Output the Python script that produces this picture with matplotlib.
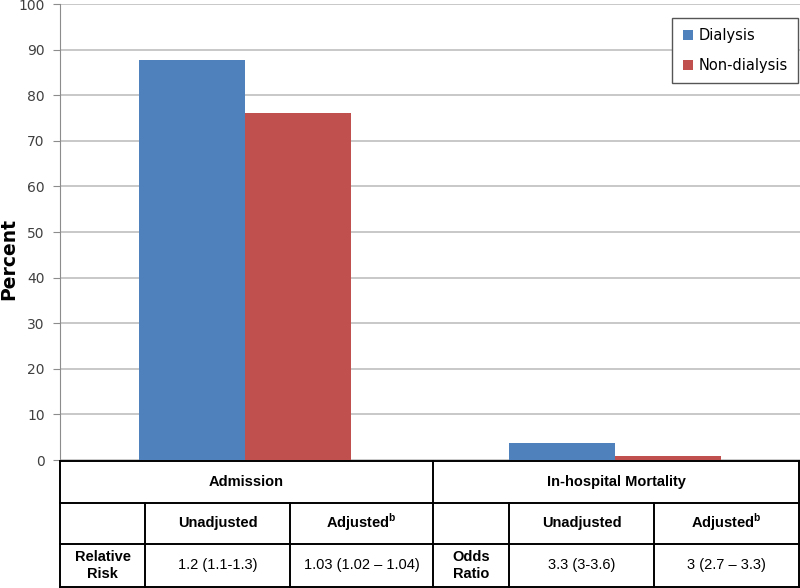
import numpy as np
import matplotlib
matplotlib.use("Agg")
import matplotlib.pyplot as plt

plt.rcParams['mathtext.fontset'] = 'custom'
plt.rcParams['mathtext.bf'] = 'Liberation Sans:bold'
plt.rcParams['mathtext.rm'] = 'Liberation Sans'

# --- Data ---
categories = ["Admission", "In-hospital Mortality"]
series_names = ["Dialysis", "Non-dialysis"]
dialysis = [87.8, 3.7]
non_dialysis = [76.0, 0.9]
colors = ["#4F81BD", "#C0504D"]

col_headers = ["Unadjusted", "Adjusted"]
row_labels = ["Relative\nRisk", "Odds\nRatio"]
unadjusted_vals = ["1.2 (1.1-1.3)", "3.3 (3-3.6)"]
adjusted_vals = ["1.03 (1.02 \u2013 1.04)", "3 (2.7 \u2013 3.3)"]

W, H = 800, 588
fig = plt.figure(figsize=(8, 5.88), dpi=100)

# --- Bar chart ---
ax = fig.add_axes([60 / W, (H - 460) / H, 740 / W, 456 / H])
x = np.arange(len(categories))
bw = 0.287
ax.bar(x - bw / 2, dialysis, bw, color=colors[0], label=series_names[0], zorder=3)
ax.bar(x + bw / 2, non_dialysis, bw, color=colors[1], label=series_names[1], zorder=3)
ax.set_xlim(-0.5, 1.5)
ax.set_ylim(0, 100)
ax.set_yticks(np.arange(0, 101, 10))
ax.set_xticks([])
ax.yaxis.grid(True, color="#BFBFBF", linewidth=1.2, zorder=0)
for s in ["top", "right", "bottom"]:
    ax.spines[s].set_visible(False)
ax.spines["left"].set_color("#8C8C8C")
ax.tick_params(axis="y", colors="#8C8C8C", labelcolor="#404040", length=5,
               labelsize=10, pad=6)
ax.set_ylabel("Percent", fontsize=13.5, fontweight="bold", va="center")
ax.yaxis.set_label_coords(-0.069, 0.44)
leg = ax.legend(loc="upper right", bbox_to_anchor=(0.9975, 0.969), fancybox=False,
                frameon=True, handlelength=0.7, handleheight=0.7, handletextpad=0.4,
                labelspacing=1.0, borderpad=0.7, borderaxespad=0, fontsize=10.5,
                framealpha=1)
leg.get_frame().set_edgecolor("#555555")
leg.get_frame().set_linewidth(1.0)

# --- Table below ---
tx = fig.add_axes([0, 0, 1, (H - 460) / H])
tx.set_xlim(0, W)
tx.set_ylim(H, 460)
tx.axis("off")
lw = 1.4
tfont = "Liberation Sans"
r0, r1, r2, r3 = 461, 503, 544, 587
for y in [r0, r1, r2, r3]:
    tx.plot([60, 800], [y, y], color="black", lw=lw)
tx.plot([60, 60], [r0, r3], color="black", lw=lw)
tx.plot([433, 433], [r0, r3], color="black", lw=lw)
tx.plot([799, 799], [r0, r3], color="black", lw=lw)
for xv in [145, 290, 509, 654]:
    tx.plot([xv, xv], [r1, r3], color="black", lw=lw)

groups = [(60, 145, 290, 433), (433, 509, 654, 799)]
for i, (x0, x1, x2, x3) in enumerate(groups):
    tx.text((x0 + x3) / 2, (r0 + r1) / 2, categories[i], ha="center", va="center",
            fontsize=10.5, fontweight="bold", family=tfont)
    tx.text((x1 + x2) / 2, (r1 + r2) / 2, col_headers[0], ha="center", va="center",
            fontsize=10.5, fontweight="bold", family=tfont)
    tx.text((x2 + x3) / 2, (r1 + r2) / 2 - 1, col_headers[1] + r"$^{\mathbf{b}}$",
            ha="center", va="center", fontsize=10.5, fontweight="bold", family=tfont)
    tx.text((x0 + x1) / 2, (r2 + r3) / 2, row_labels[i], ha="center", va="center",
            fontsize=10.5, fontweight="bold", family=tfont, linespacing=1.25)
    tx.text((x1 + x2) / 2, (r2 + r3) / 2, unadjusted_vals[i], ha="center", va="center",
            fontsize=10.5, family=tfont)
    tx.text((x2 + x3) / 2, (r2 + r3) / 2, adjusted_vals[i], ha="center", va="center",
            fontsize=10.5, family=tfont)

fig.savefig("out.png", dpi=100)
